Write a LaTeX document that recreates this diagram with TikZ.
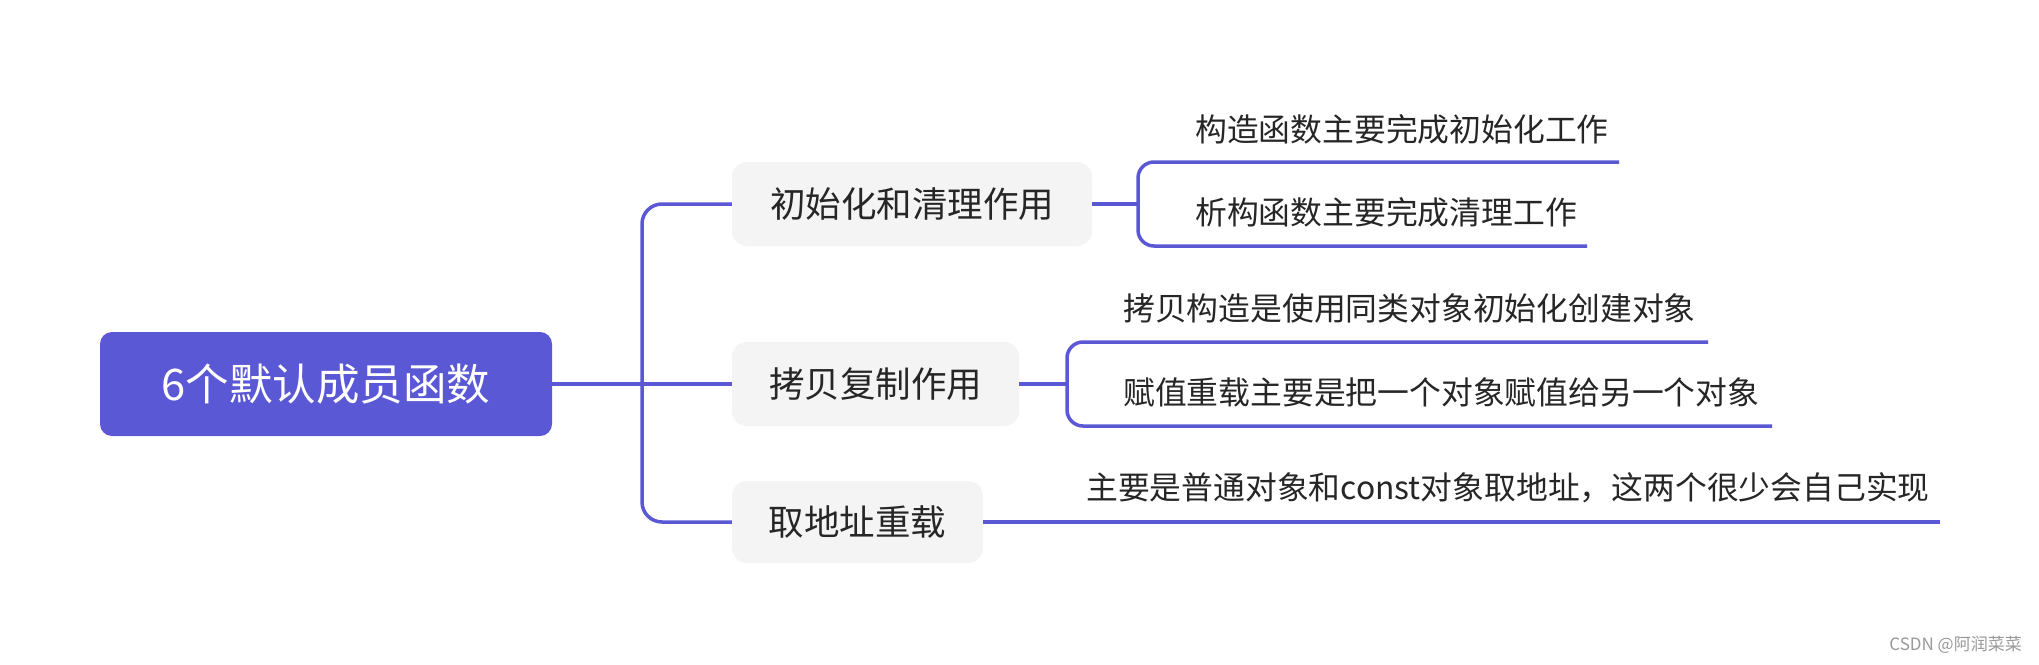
\documentclass[tikz,border=0pt]{standalone}
\usepackage{fontspec}
\setmainfont{Noto Sans CJK SC}
\definecolor{mainblue}{RGB}{91,88,214}
\definecolor{branchfill}{RGB}{244,244,244}
\definecolor{txt}{RGB}{38,38,38}
\begin{document}
\begin{tikzpicture}[x=1pt,y=-1pt,
  conn/.style={draw=mainblue,line width=3.5pt},
  rootbox/.style={fill=mainblue,text=white,rounded corners=12pt,inner sep=0pt,
     font=\fontsize{43.5}{50}\selectfont,minimum height=104pt,minimum width=452pt},
  branchbox/.style={fill=branchfill,text=txt,rounded corners=15pt,inner sep=0pt,
     font=\fontsize{35.5}{42}\selectfont,minimum height=84pt},
  leaftext/.style={text=txt,inner sep=0pt,anchor=west,font=\fontsize{31.8}{38}\selectfont}]
\useasboundingbox (0,0) rectangle (2039,664);
\fill[white] (0,0) rectangle (2039,664);
% root
\node[rootbox] (root) at (326,384) {6个默认成员函数};
% branches
\node[branchbox,minimum width=360pt] (b1) at (912,204) {初始化和清理作用};
\node[branchbox,minimum width=287pt] (b2) at (875.5,384) {拷贝复制作用};
\node[branchbox,minimum width=251pt,minimum height=82pt] (b3) at (857.5,522) {取地址重载};
% trunk
\coordinate (t1) at (642,204);
\coordinate (t3) at (642,522);
\draw[conn] (root.east) -- (b2.west);
\draw[conn,rounded corners=20pt] (b1.west) -- (t1) -- (t3) -- (b3.west);
% group 1
\node[leaftext] (l11) at (1195,129) {构造函数主要完成初始化工作};
\node[leaftext] (l12) at (1195,212) {析构函数主要完成清理工作};
\coordinate (g1a) at (1619,162);
\coordinate (g1t) at (1138,162);
\coordinate (g1m) at (1138,204);
\coordinate (g1b) at (1138,246);
\coordinate (g1e) at (1587,246);
\draw[conn] (b1.east) -- (g1m);
\draw[conn,rounded corners=16pt] (g1a) -- (g1t) -- (g1b) -- (g1e);
% group 2
\node[leaftext] (l21) at (1123,308) {拷贝构造是使用同类对象初始化创建对象};
\node[leaftext] (l22) at (1123,392) {赋值重载主要是把一个对象赋值给另一个对象};
\coordinate (g2a) at (1708,342);
\coordinate (g2t) at (1067,342);
\coordinate (g2m) at (1067,384);
\coordinate (g2b) at (1067,426);
\coordinate (g2e) at (1772,426);
\draw[conn] (b2.east) -- (g2m);
\draw[conn,rounded corners=16pt] (g2a) -- (g2t) -- (g2b) -- (g2e);
% group 3
\node[leaftext] (l31) at (1086,488) {主要是普通对象和const对象取地址，这两个很少会自己实现};
\coordinate (g3e) at (1940,522);
\draw[conn] (b3.east) -- (g3e);
% watermark
\node[text=gray!80,inner sep=0pt,anchor=east,font=\fontsize{17}{20}\selectfont] (wm) at (2022,645) {CSDN @阿润菜菜};
\end{tikzpicture}
\end{document}
